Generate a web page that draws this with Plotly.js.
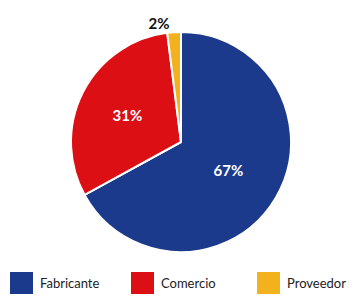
<!DOCTYPE html>
<html><head><meta charset="utf-8">
<script src="https://cdn.plot.ly/plotly-3.0.1.min.js"></script>
<style>html,body{margin:0;padding:0;background:#fff}#c{width:355px;height:301px}</style>
</head><body><div id="c"></div>
<script>
const categories = ["Fabricante", "Comercio", "Proveedor"];
const values = [67, 31, 2];
const colors = ["#1c3a8c", "#dc0f14", "#f2b21e"];
const legendX = [10, 131, 257];

const pie = {
  type: "pie",
  labels: categories,
  values: values,
  sort: false,
  direction: "clockwise",
  rotation: 0,
  marker: {colors: colors, line: {color: "#ffffff", width: 2}},
  textinfo: "percent",
  texttemplate: "%{percent:.0%}",
  textposition: ["inside", "inside", "outside"],
  insidetextfont: {color: "#ffffff", size: 15, family: "Lato, sans-serif", weight: "bold"},
  outsidetextfont: {color: "#111111", size: 15, family: "Lato, sans-serif", weight: "bold"},
  insidetextorientation: "horizontal",
  showlegend: false,
  hoverinfo: "none",
  domain: {x: [71/355, 291/355], y: [1 - 252/301, 1 - 32/301]}
};

const shapes = categories.map((c, i) => ({
  type: "rect", xref: "paper", yref: "paper",
  x0: legendX[i] / 355, x1: (legendX[i] + 23) / 355,
  y0: 1 - 294/301, y1: 1 - 272/301,
  fillcolor: colors[i], line: {width: 0}
}));
const annotations = categories.map((c, i) => ({
  text: c, xref: "paper", yref: "paper",
  x: (legendX[i] + 28) / 355, y: 1 - 283/301,
  xanchor: "left", yanchor: "middle", showarrow: false,
  font: {family: "Lato, sans-serif", size: 13, color: "#222222"}
}));

Plotly.newPlot("c", [pie], {
  width: 355, height: 301,
  margin: {l: 0, r: 0, t: 0, b: 0},
  paper_bgcolor: "#ffffff",
  shapes: shapes,
  annotations: annotations
}, {staticPlot: true});
</script></body></html>
